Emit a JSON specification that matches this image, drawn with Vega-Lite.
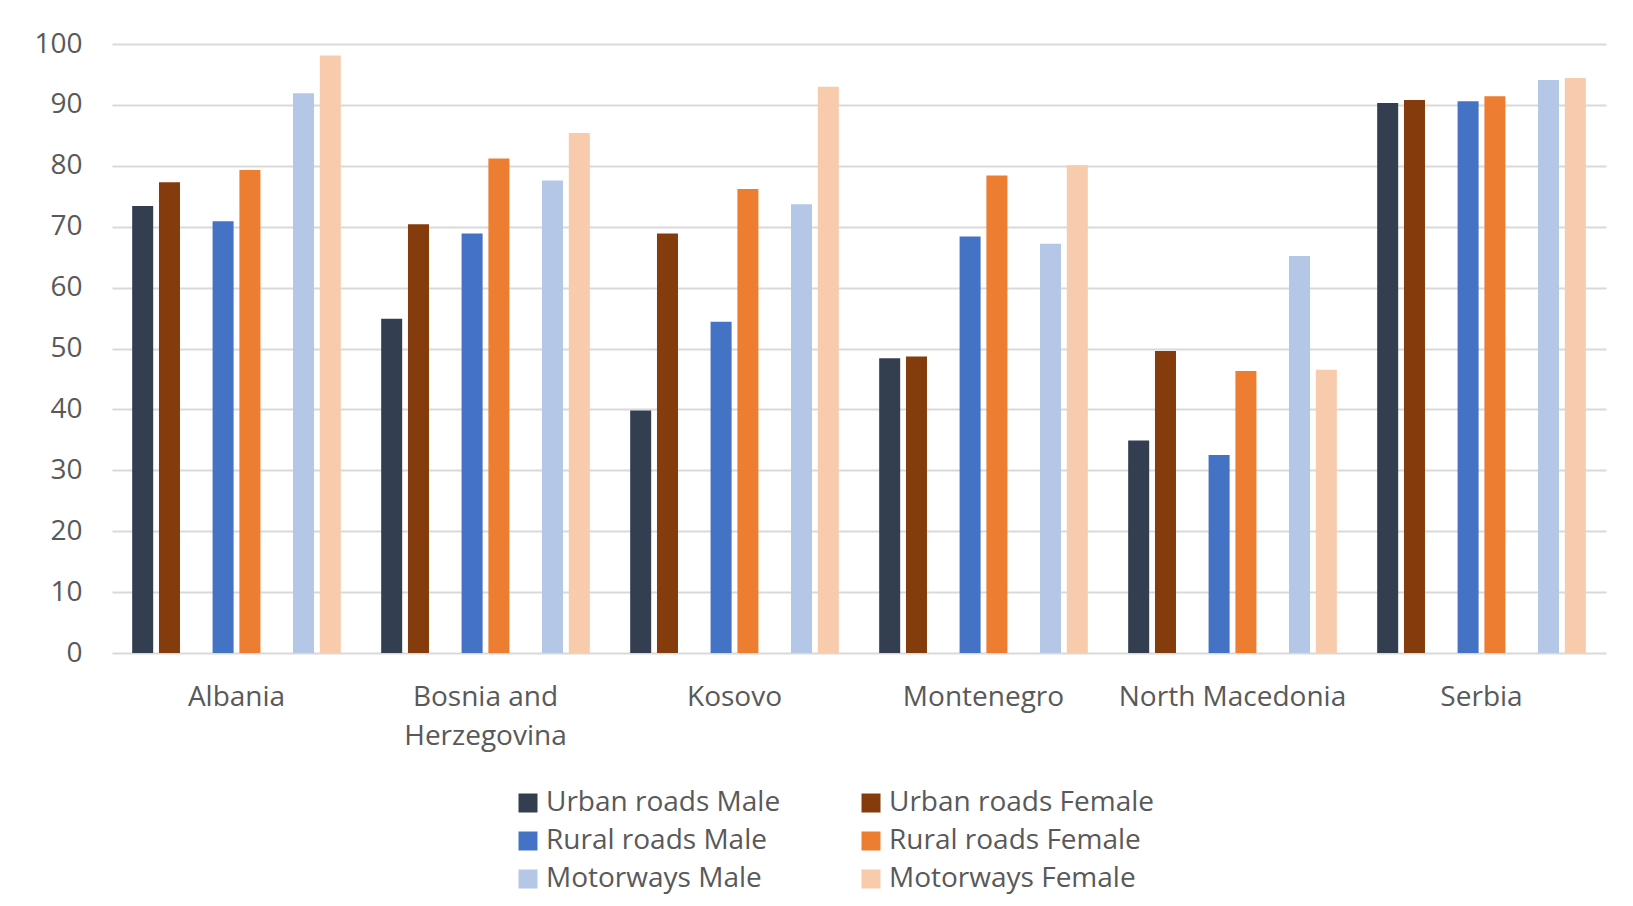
{
  "$schema": "https://vega.github.io/schema/vega-lite/v6.json",
  "width": 1494,
  "height": 609,
  "autosize": {"type": "none"},
  "padding": {"left": 112, "top": 44, "right": 27, "bottom": 253},
  "background": "white",
  "config": {
    "view": {"stroke": null},
    "font": "Open Sans",
    "axis": {"labelFont": "Open Sans", "labelColor": "#595959", "labelFontSize": 28},
    "legend": {"labelFont": "Open Sans", "labelColor": "#595959", "labelFontSize": 28}
  },
  "data": {
    "values": [
      {"country": "Albania", "series": "Urban roads Male", "value": 73.4},
      {"country": "Albania", "series": "Urban roads Female", "value": 77.3},
      {"country": "Albania", "series": "Rural roads Male", "value": 70.9},
      {"country": "Albania", "series": "Rural roads Female", "value": 79.3},
      {"country": "Albania", "series": "Motorways Male", "value": 91.9},
      {"country": "Albania", "series": "Motorways Female", "value": 98.1},
      {"country": "Bosnia and Herzegovina", "series": "Urban roads Male", "value": 54.9},
      {"country": "Bosnia and Herzegovina", "series": "Urban roads Female", "value": 70.4},
      {"country": "Bosnia and Herzegovina", "series": "Rural roads Male", "value": 68.9},
      {"country": "Bosnia and Herzegovina", "series": "Rural roads Female", "value": 81.2},
      {"country": "Bosnia and Herzegovina", "series": "Motorways Male", "value": 77.6},
      {"country": "Bosnia and Herzegovina", "series": "Motorways Female", "value": 85.4},
      {"country": "Kosovo", "series": "Urban roads Male", "value": 39.8},
      {"country": "Kosovo", "series": "Urban roads Female", "value": 68.9},
      {"country": "Kosovo", "series": "Rural roads Male", "value": 54.4},
      {"country": "Kosovo", "series": "Rural roads Female", "value": 76.2},
      {"country": "Kosovo", "series": "Motorways Male", "value": 73.7},
      {"country": "Kosovo", "series": "Motorways Female", "value": 93.0},
      {"country": "Montenegro", "series": "Urban roads Male", "value": 48.4},
      {"country": "Montenegro", "series": "Urban roads Female", "value": 48.7},
      {"country": "Montenegro", "series": "Rural roads Male", "value": 68.4},
      {"country": "Montenegro", "series": "Rural roads Female", "value": 78.4},
      {"country": "Montenegro", "series": "Motorways Male", "value": 67.2},
      {"country": "Montenegro", "series": "Motorways Female", "value": 80.1},
      {"country": "North Macedonia", "series": "Urban roads Male", "value": 34.9},
      {"country": "North Macedonia", "series": "Urban roads Female", "value": 49.6},
      {"country": "North Macedonia", "series": "Rural roads Male", "value": 32.5},
      {"country": "North Macedonia", "series": "Rural roads Female", "value": 46.3},
      {"country": "North Macedonia", "series": "Motorways Male", "value": 65.2},
      {"country": "North Macedonia", "series": "Motorways Female", "value": 46.5},
      {"country": "Serbia", "series": "Urban roads Male", "value": 90.3},
      {"country": "Serbia", "series": "Urban roads Female", "value": 90.8},
      {"country": "Serbia", "series": "Rural roads Male", "value": 90.6},
      {"country": "Serbia", "series": "Rural roads Female", "value": 91.4},
      {"country": "Serbia", "series": "Motorways Male", "value": 94.1},
      {"country": "Serbia", "series": "Motorways Female", "value": 94.4}
    ]
  },
  "mark": {"type": "bar"},
  "encoding": {
    "x": {
      "field": "country",
      "type": "nominal",
      "sort": null,
      "title": null,
      "scale": {"paddingInner": 0.162, "paddingOuter": 0.081},
      "axis": {
        "labelAngle": 0,
        "ticks": false,
        "tickSize": 0,
        "domain": false,
        "labelPadding": 30,
        "labelLineHeight": 39,
        "labelBaseline": "top",
        "labelLimit": 0,
        "labelExpr": "datum.value == 'Bosnia and Herzegovina' ? ['Bosnia and', 'Herzegovina'] : datum.value"
      }
    },
    "xOffset": {
      "field": "series",
      "type": "nominal",
      "scale": {
        "domain": ["Urban roads Male", "Urban roads Female", "gap1", "Rural roads Male", "Rural roads Female", "gap2", "Motorways Male", "Motorways Female"],
        "paddingInner": 0.216,
        "paddingOuter": 0
      }
    },
    "y": {
      "field": "value",
      "type": "quantitative",
      "title": null,
      "scale": {"domain": [0, 100], "nice": false},
      "axis": {
        "values": [0, 10, 20, 30, 40, 50, 60, 70, 80, 90, 100],
        "ticks": false,
        "tickSize": 0,
        "domain": false,
        "labelPadding": 30,
        "grid": true,
        "gridColor": "#D9D9D9",
        "gridWidth": 2
      }
    },
    "color": {
      "field": "series",
      "type": "nominal",
      "scale": {
        "domain": ["Urban roads Male", "Rural roads Male", "Motorways Male", "Urban roads Female", "Rural roads Female", "Motorways Female"],
        "range": ["#333F50", "#4472C4", "#B4C7E7", "#843C0C", "#ED7D31", "#F8CBAD"]
      },
      "legend": {
        "title": null,
        "orient": "none",
        "legendX": 402,
        "legendY": 745,
        "columns": 2,
        "columnPadding": 76,
        "rowPadding": 10,
        "symbolType": "square",
        "symbolSize": 361,
        "symbolStrokeWidth": 0,
        "labelOffset": 4,
        "labelLimit": 0
      }
    }
  }
}
